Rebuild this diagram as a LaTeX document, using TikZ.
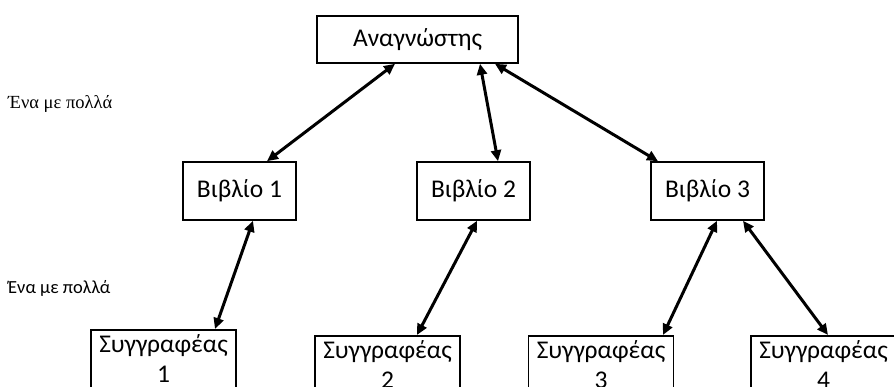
\documentclass[tikz,border=0pt]{standalone}
\usepackage{fontspec}
\setmainfont{Carlito}
\newfontfamily\serifgr{Liberation Serif}
\usetikzlibrary{arrows.meta}
\begin{document}
\begin{tikzpicture}[x=1pt,y=-1pt,
  box/.style={draw, line width=1.6pt, fill=white, inner sep=0pt, font=\fontsize{25.5}{30}\selectfont},
  bookbox/.style={box, minimum width=113pt, minimum height=58pt},
  authbox/.style={box, anchor=north, minimum width=145pt, text width=145pt, align=center, inner ysep=5pt},
  link/.style={line width=3pt, {Triangle[length=11pt,width=10pt]}-{Triangle[length=11pt,width=10pt]}},
  note/.style={anchor=west, inner sep=0pt}]
\useasboundingbox (0,0) rectangle (894,387);
\clip (0,0) rectangle (894,387);

% top level
\node[box, minimum width=201pt, minimum height=47pt] (reader) at (417.5,39.5) {Αναγνώστης};

% books
\node[bookbox] (b1) at (239.5,191) {Βιβλίο 1};
\node[bookbox] (b2) at (473.5,191) {Βιβλίο 2};
\node[bookbox] (b3) at (707.5,191) {Βιβλίο 3};

% authors (boxes run past the lower edge)
\node[authbox] (a1) at (163.5,329) {Συγγραφέας\\1};
\node[authbox] (a2) at (387.5,335) {Συγγραφέας\\2};
\node[authbox] (a3) at (601,335) {Συγγραφέας\\3};
\node[authbox] (a4) at (823.5,335) {Συγγραφέας\\4};

% side notes
\node[note, font=\serifgr\fontsize{18.5}{20}\selectfont] (n1) at (8,104) {Ένα με πολλά};
\node[note, font=\fontsize{18.5}{20}\selectfont] (n2) at (8,288) {Ένα με πολλά};

% reader -- books
\draw[link] ([xshift=-22.5pt]reader.south) -- ([xshift=27.5pt]b1.north);
\draw[link] ([xshift=62.5pt]reader.south) -- ([xshift=24.5pt]b2.north);
\draw[link] ([xshift=77.5pt]reader.south) -- ([xshift=-49.5pt]b3.north);

% books -- authors
\draw[link] ([xshift=13.5pt]b1.south) -- ([xshift=51.5pt]a1.north);
\draw[link] ([xshift=3.5pt]b2.south) -- ([xshift=29.5pt]a2.north);
\draw[link] ([xshift=9.5pt]b3.south) -- ([xshift=62pt]a3.north);
\draw[link] ([xshift=35.5pt]b3.south) -- ([xshift=4.5pt]a4.north);
\end{tikzpicture}
\end{document}
